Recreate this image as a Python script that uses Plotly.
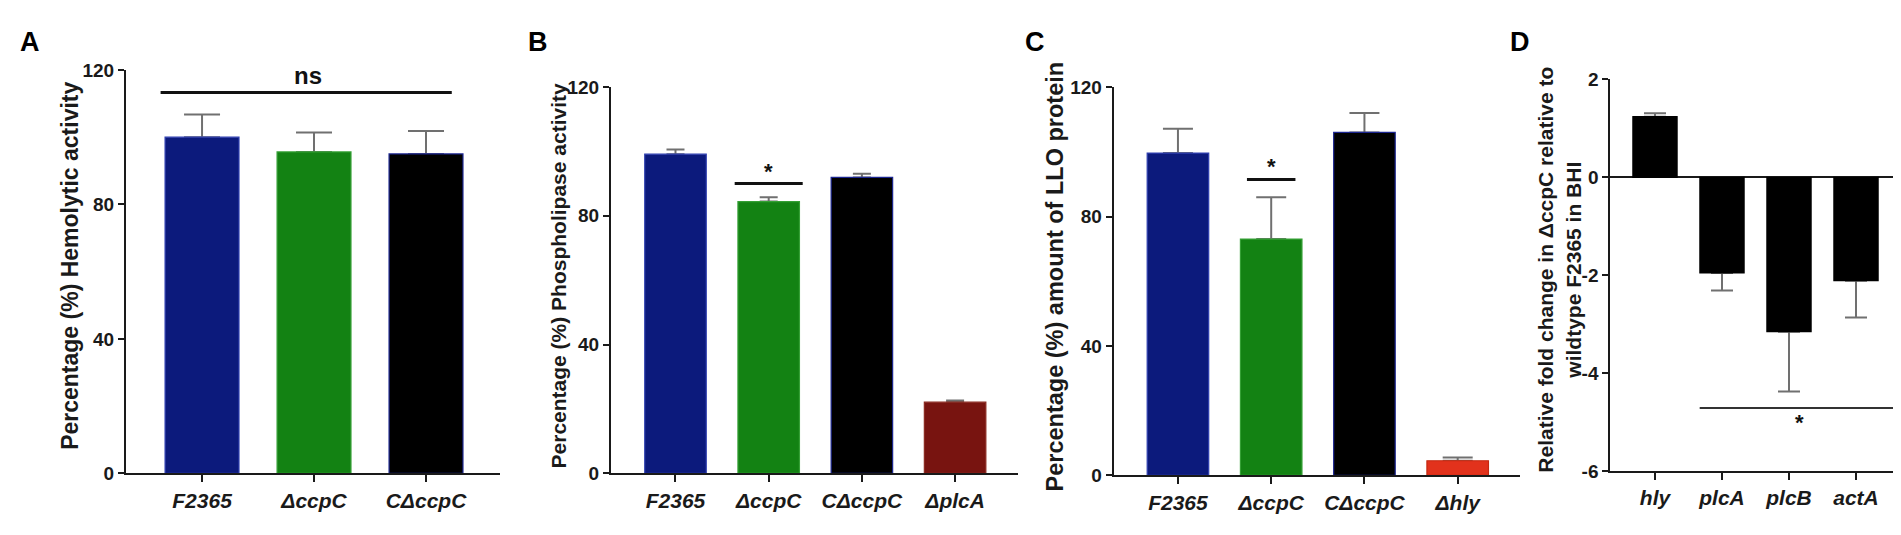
import plotly.graph_objects as go

W, H = 1901, 535

# ---------------- data ----------------
A_labels = ["F2365", "ΔccpC", "CΔccpC"]
A_values = [100.0, 95.6, 95.0]
A_err = [6.7, 5.8, 6.8]

B_labels = ["F2365", "ΔccpC", "CΔccpC", "ΔplcA"]
B_values = [99.1, 84.4, 91.9, 22.1]
B_err = [1.5, 1.3, 1.1, 0.5]

C_labels = ["F2365", "ΔccpC", "CΔccpC", "Δhly"]
C_values = [99.7, 73.1, 106.1, 4.5]
C_err = [7.5, 12.9, 6.0, 1.0]

D_labels = ["hly", "plcA", "plcB", "actA"]
D_values = [1.24, -1.95, -3.15, -2.11]
D_err = [0.07, 0.36, 1.22, 0.75]

pct_ticks = [0, 40, 80, 120]
pct_ticktext = ["0", "40", "80", "120"]
D_ticks = [-6, -4, -2, 0, 2]
D_ticktext = ["-6", "-4", "-2", "0", "2"]

# significance marks: (x0, x1, y) and (x, y, text)
A_sig_line = [-0.37, 2.23, 113.3]
A_sig_text = [0.95, 118.2, "ns"]
B_sig_line = [0.635, 1.365, 90.0]
B_sig_text = [1.0, 93.6, "*"]
C_sig_line = [0.74, 1.26, 91.5]
C_sig_text = [1.0, 95.6, "*"]
D_sig_line = [0.667, 3.676, -4.71]
D_sig_text = [2.15, -5.0, "*"]

# ---------------- style ----------------
NAVY = "#0c1a7c"
GREEN = "#138213"
BLACK = "#000000"
DRED = "#781410"
RED = "#e2321c"
ERRC = "#707070"
AX = "#1a1a1a"
FONT = "Liberation Sans"

A_colors = [NAVY, GREEN, BLACK]
BC_colors = [NAVY, GREEN, BLACK]
B_colors = BC_colors + [DRED]
C_colors = BC_colors + [RED]
D_colors = [BLACK] * 4
A_edge = ["#2f3fb0", "#35a035", "#1b2590"]
B_edge = ["#2f3fb0", "#35a035", "#1b2590", "#8a2a20"]
C_edge = ["#2f3fb0", "#35a035", "#1b2590", "#c42810"]
D_edge = [BLACK] * 4


def px_x(p):
    return p / W


def px_y(p):
    return 1 - p / H


panels = [
    dict(lab=A_labels, val=A_values, err=A_err, col=A_colors, edge=A_edge,
         xd=(118, 491.7), yd=(474, 54), xr=[-0.679, 2.658], yr=[0, 120], cap=18,
         ticks=pct_ticks, ticktext=pct_ticktext),
    dict(lab=B_labels, val=B_values, err=B_err, col=B_colors, edge=B_edge,
         xd=(603, 1010), yd=(474, 71.7), xr=[-0.692, 3.675], yr=[0, 120], cap=9,
         ticks=pct_ticks, ticktext=pct_ticktext),
    dict(lab=C_labels, val=C_values, err=C_err, col=C_colors, edge=C_edge,
         xd=(1105.7, 1511.7), yd=(476, 72.3), xr=[-0.689, 3.665], yr=[0, 120], cap=15,
         ticks=pct_ticks, ticktext=pct_ticktext),
    dict(lab=D_labels, val=D_values, err=D_err, col=D_colors, edge=D_edge,
         xd=(1602.3, 1893.3), yd=(471.7, 64), xr=[-0.667, 3.676], yr=[-6, 2], cap=11,
         ticks=D_ticks, ticktext=D_ticktext),
]

fig = go.Figure()
layout = dict(
    width=W, height=H, margin=dict(l=0, r=0, t=0, b=0),
    paper_bgcolor="white", plot_bgcolor="white", showlegend=False,
    barmode="overlay", font=dict(family=FONT, color="#1a1a1a"),
)

for i, p in enumerate(panels, start=1):
    xa = "x" if i == 1 else f"x{i}"
    ya = "y" if i == 1 else f"y{i}"
    xs = list(range(len(p["lab"])))
    up = [e if v >= 0 else 0 for v, e in zip(p["val"], p["err"])]
    dn = [e if v < 0 else 0 for v, e in zip(p["val"], p["err"])]
    # error bars first; the coloured bars drawn on top hide the inner cap
    fig.add_trace(go.Bar(
        x=xs, y=p["val"], width=0.66, xaxis=xa, yaxis=ya,
        marker=dict(color="rgba(0,0,0,0)", line=dict(width=0)),
        error_y=dict(type="data", symmetric=False, array=up, arrayminus=dn,
                     color=ERRC, thickness=2, width=p["cap"]),
        hoverinfo="skip",
    ))
    fig.add_trace(go.Bar(
        x=xs, y=p["val"], width=0.66, xaxis=xa, yaxis=ya,
        marker=dict(color=p["col"], line=dict(color=p["edge"], width=1.2)),
    ))
    xkey = "xaxis" if i == 1 else f"xaxis{i}"
    ykey = "yaxis" if i == 1 else f"yaxis{i}"
    layout[xkey] = dict(
        domain=[px_x(p["xd"][0]), px_x(p["xd"][1])], anchor=ya,
        range=p["xr"], tickmode="array", tickvals=xs, ticktext=p["lab"],
        showline=True, linecolor=AX, linewidth=2, showgrid=False, zeroline=False,
        ticks="outside", ticklen=7, tickwidth=2, tickcolor=AX,
        tickfont=dict(family=FONT, size=21, weight="bold", style="italic", color="#1a1a1a"),
        fixedrange=True,
    )
    layout[ykey] = dict(
        domain=[px_y(p["yd"][0]), px_y(p["yd"][1])], anchor=xa,
        range=p["yr"], tickmode="array", tickvals=p["ticks"], ticktext=p["ticktext"],
        showline=True, linecolor=AX, linewidth=2, showgrid=False,
        zeroline=(i == 4), zerolinecolor=AX, zerolinewidth=2,
        ticks="outside", ticklen=6, tickwidth=2, tickcolor=AX,
        tickfont=dict(family=FONT, size=19, weight="bold", color="#1a1a1a"),
        fixedrange=True,
    )

fig.update_layout(**layout)

# significance lines
sig_lines = [(A_sig_line, "x", "y", 3, "#111111"), (B_sig_line, "x2", "y2", 3, "#111111"),
             (C_sig_line, "x3", "y3", 3, "#111111"), (D_sig_line, "x4", "y4", 2, "#333333")]
for (x0, x1, yv), xr, yr, lw, c in sig_lines:
    fig.add_shape(type="line", xref=xr, yref=yr, x0=x0, x1=x1, y0=yv, y1=yv,
                  line=dict(color=c, width=lw))

sig_texts = [(A_sig_text, "x", "y", 24), (B_sig_text, "x2", "y2", 22),
             (C_sig_text, "x3", "y3", 22), (D_sig_text, "x4", "y4", 22)]
for (xv, yv, t), xr, yr, fs in sig_texts:
    fig.add_annotation(x=xv, y=yv, xref=xr, yref=yr, text=f"<b>{t}</b>", showarrow=False,
                       font=dict(family=FONT, size=fs, color="#111111"),
                       xanchor="center", yanchor="middle")

# y-axis titles
ytitles = [
    ("Percentage (%) Hemolytic activity", 62, 258, 23),
    ("Percentage (%) Phospholipase activity", 550, 269, 21),
    ("Percentage (%) amount of LLO protein", 1047, 269, 23.5),
    ("Relative fold change in ΔccpC relative to<br>wildtype F2365 in BHI", 1551, 262, 21),
]
for t, xp, yp, fs in ytitles:
    fig.add_annotation(x=px_x(xp), y=px_y(yp), xref="paper", yref="paper",
                       text=f"<b>{t}</b>", showarrow=False, textangle=-90,
                       font=dict(family=FONT, size=fs, color="#1a1a1a"),
                       xanchor="center", yanchor="middle")

# panel letters
for t, xp in [("A", 22), ("B", 530), ("C", 1027), ("D", 1512)]:
    fig.add_annotation(x=px_x(xp), y=px_y(25), xref="paper", yref="paper",
                       text=f"<b>{t}</b>", showarrow=False,
                       font=dict(family=FONT, size=27, color="#000000"),
                       xanchor="center", yanchor="middle")

fig.write_html("out.html")
